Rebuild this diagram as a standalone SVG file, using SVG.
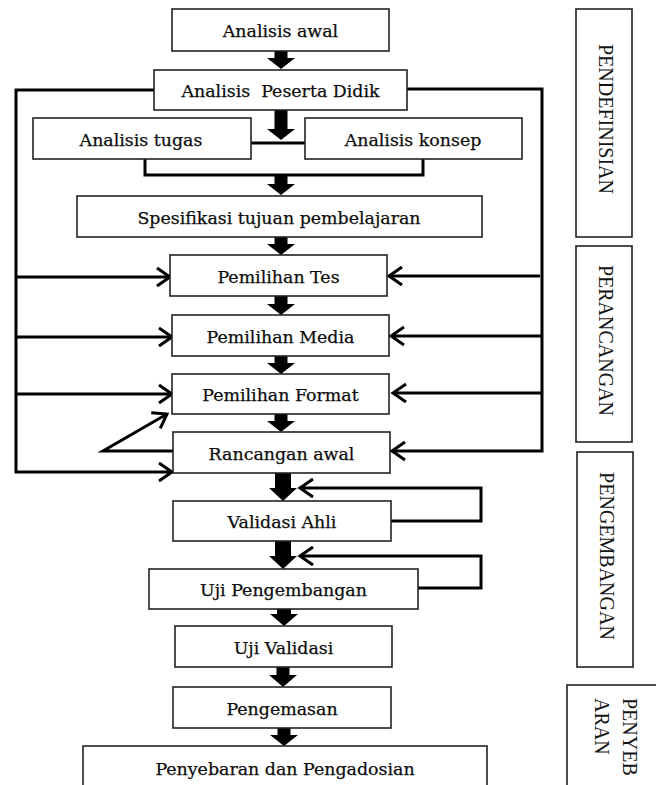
<svg xmlns="http://www.w3.org/2000/svg" width="656" height="785" viewBox="0 0 656 785">
<style>
.box{fill:#fff;stroke:#222;stroke-width:1.6}
.t{font-family:"DejaVu Serif","Liberation Serif",serif;font-size:17.4px;fill:#0c0c0c;text-anchor:middle;stroke:#0c0c0c;stroke-width:0.25}
.v{font-family:"Liberation Serif","Times New Roman",serif;font-size:20px;fill:#141414}
.c{fill:none;stroke:#000;stroke-width:3}
.ta{fill:#000}
</style>
<defs>
<marker id="oh" markerUnits="userSpaceOnUse" markerWidth="18" markerHeight="22" refX="14" refY="10" orient="auto" overflow="visible">
<path d="M1,1 L14,10 L1,19" fill="none" stroke="#000" stroke-width="3"/>
</marker>
</defs>
<rect width="656" height="785" fill="#fff"/>
<g id="connectors">
<path class="c" d="M251,143 H305"/>
<path class="c" d="M145,159 V175 H423 V159"/>
<path class="c" d="M154,90 H16 V472 H172" marker-end="url(#oh)"/>
<path class="c" d="M16,277 H170" marker-end="url(#oh)"/>
<path class="c" d="M16,337 H172" marker-end="url(#oh)"/>
<path class="c" d="M16,394 H172" marker-end="url(#oh)"/>
<path class="c" d="M407,89 H542 V451 H392" marker-end="url(#oh)"/>
<path class="c" d="M540,276 H389" marker-end="url(#oh)"/>
<path class="c" d="M542,336 H391" marker-end="url(#oh)"/>
<path class="c" d="M542,393 H393" marker-end="url(#oh)"/>
<path class="c" d="M173,451 H103 L167,414" marker-end="url(#oh)"/>
<path class="c" d="M391,521 H481 V488 H300" marker-end="url(#oh)"/>
<path class="c" d="M418,588 H481 V556 H300" marker-end="url(#oh)"/>
<polygon class="ta" points="274.5,51 287.5,51 287.5,58 295,58 281,69 267,58 274.5,58"/>
<polygon class="ta" points="274.5,110 287.5,110 287.5,129 295,129 281,140 267,129 274.5,129"/>
<polygon class="ta" points="274.5,175 287.5,175 287.5,184 295,184 281,195 267,184 274.5,184"/>
<polygon class="ta" points="274.5,237 287.5,237 287.5,244 295,244 281,255 267,244 274.5,244"/>
<polygon class="ta" points="274.5,296 287.5,296 287.5,304 295,304 281,315 267,304 274.5,304"/>
<polygon class="ta" points="274.5,356 287.5,356 287.5,363 295,363 281,374 267,363 274.5,363"/>
<polygon class="ta" points="274.5,414 287.5,414 287.5,421 295,421 281,432 267,421 274.5,421"/>
<polygon class="ta" points="275,473 291,473 291,488 297,488 283,501 269,488 275,488"/>
<polygon class="ta" points="275,541 291,541 291,556 297,556 283,569 269,556 275,556"/>
<polygon class="ta" points="277,609 291,609 291,614 298,614 284,626 270,614 277,614"/>
<polygon class="ta" points="276.5,667 289.5,667 289.5,675 297,675 283,687 269,675 276.5,675"/>
<polygon class="ta" points="277.5,728 290.5,728 290.5,735 298,735 284,746 270,735 277.5,735"/>
</g>
<g id="n1"><rect class="box" x="172" y="9" width="217" height="42"/><text class="t" x="280.5" y="37">Analisis awal</text></g>
<g id="n2"><rect class="box" x="154" y="70" width="253" height="40"/><text class="t" x="280.5" y="97" xml:space="preserve">Analisis  Peserta Didik</text></g>
<g id="n3"><rect class="box" x="33" y="118" width="218" height="41"/><text class="t" x="141" y="146">Analisis tugas</text></g>
<g id="n4"><rect class="box" x="305" y="118" width="217" height="41"/><text class="t" x="413" y="146">Analisis konsep</text></g>
<g id="n5"><rect class="box" x="77" y="196" width="405" height="41"/><text class="t" x="279" y="224">Spesifikasi tujuan pembelajaran</text></g>
<g id="n6"><rect class="box" x="170" y="255" width="217" height="41"/><text class="t" x="278.5" y="283">Pemilihan Tes</text></g>
<g id="n7"><rect class="box" x="172" y="315" width="217" height="41"/><text class="t" x="280.5" y="343">Pemilihan Media</text></g>
<g id="n8"><rect class="box" x="172" y="374" width="217" height="40"/><text class="t" x="280.5" y="401">Pemilihan Format</text></g>
<g id="n9"><rect class="box" x="173" y="432" width="217" height="41"/><text class="t" x="281.5" y="460">Rancangan awal</text></g>
<g id="n10"><rect class="box" x="173" y="501" width="218" height="40"/><text class="t" x="282" y="528">Validasi Ahli</text></g>
<g id="n11"><rect class="box" x="149" y="569" width="269" height="40"/><text class="t" x="283.5" y="596">Uji Pengembangan</text></g>
<g id="n12"><rect class="box" x="175" y="626" width="217" height="41"/><text class="t" x="283.5" y="654">Uji Validasi</text></g>
<g id="n13"><rect class="box" x="173" y="687" width="218" height="41"/><text class="t" x="282" y="715">Pengemasan</text></g>
<g id="n14"><rect class="box" x="83" y="746" width="404" height="60"/><text class="t" x="285" y="775">Penyebaran dan Pengadosian</text></g>
<g id="phase1"><rect class="box" x="576" y="9" width="56" height="228"/><text class="v" text-anchor="middle" transform="translate(599,119) rotate(90)">PENDEFINISIAN</text></g>
<g id="phase2"><rect class="box" x="576" y="246" width="56" height="196"/><text class="v" text-anchor="middle" transform="translate(599,340.5) rotate(90)">PERANCANGAN</text></g>
<g id="phase3"><rect class="box" x="577" y="452" width="56" height="215"/><text class="v" text-anchor="middle" transform="translate(600,556) rotate(90)">PENGEMBANGAN</text></g>
<g id="phase4"><rect class="box" x="567" y="685" width="100" height="120"/><text class="v" font-size="19" transform="translate(623,698) rotate(90)">PENYEB</text><text class="v" font-size="19" transform="translate(595,698) rotate(90)">ARAN</text></g>
</svg>
